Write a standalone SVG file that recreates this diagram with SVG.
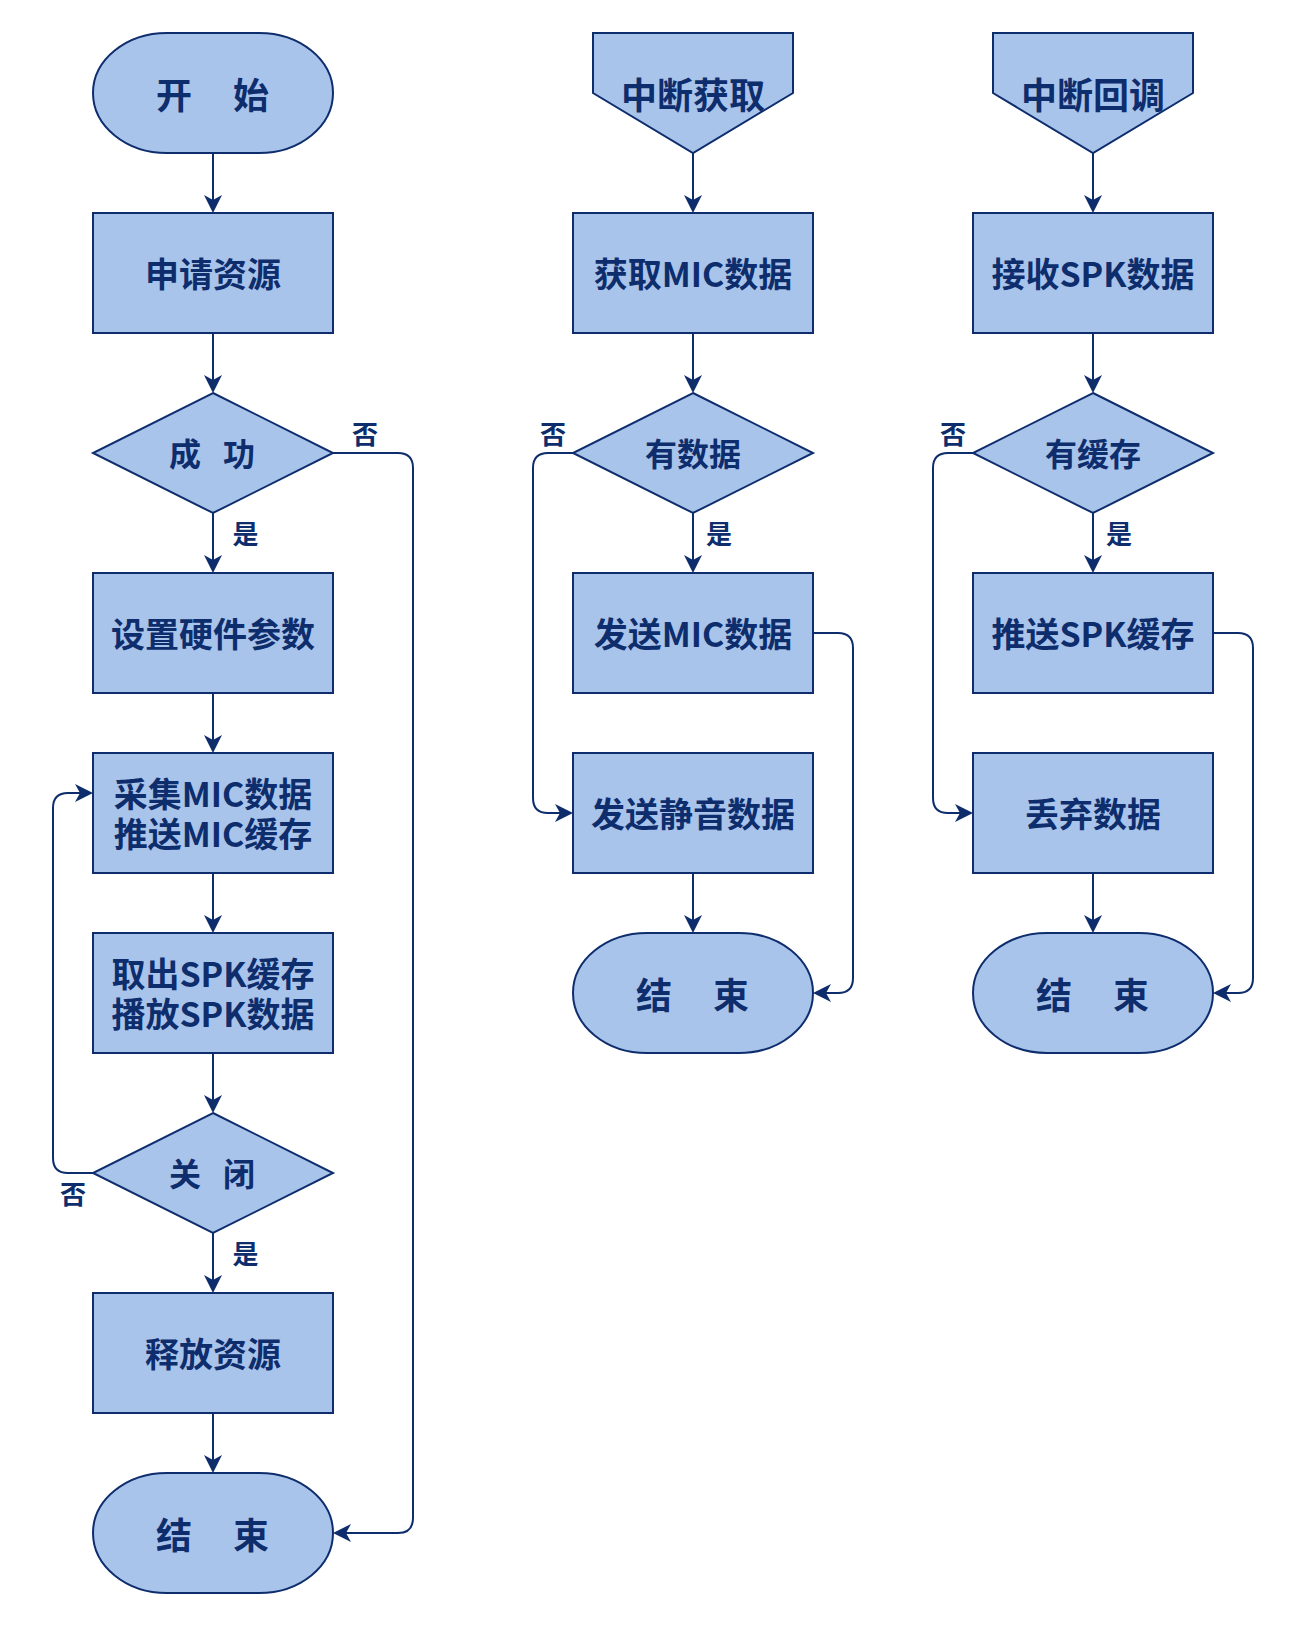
<svg xmlns="http://www.w3.org/2000/svg" width="1302" height="1636" viewBox="0 0 1302 1636">
<style>
.n{fill:#A9C4EB;stroke:#0E2D6D;stroke-width:2}
.t{font-family:"Noto Sans CJK SC","Noto Sans",sans-serif;font-weight:bold;fill:#0E2D6D;text-anchor:middle;dominant-baseline:central}
.r{font-size:34px}
.d{font-size:32px}
.e{font-size:36px}
.l{font-size:26px}
.c{fill:none;stroke:#0E2D6D;stroke-width:2}
</style>
<defs>
<marker id="a" markerUnits="userSpaceOnUse" markerWidth="24" markerHeight="24" viewBox="-20 -12 24 24" refX="0" refY="0" orient="auto">
<path d="M2,0 L-16,-9 L-11,0 L-16,9 Z" fill="#0E2D6D"/>
</marker>
</defs>
<rect width="1302" height="1636" fill="#fff"/>

<g id="connectors">
<path class="c" marker-end="url(#a)" d="M213,153 V211"/>
<path class="c" marker-end="url(#a)" d="M213,333 V391"/>
<path class="c" marker-end="url(#a)" d="M213,513 V571"/>
<path class="c" marker-end="url(#a)" d="M213,693 V751"/>
<path class="c" marker-end="url(#a)" d="M213,873 V931"/>
<path class="c" marker-end="url(#a)" d="M213,1053 V1111"/>
<path class="c" marker-end="url(#a)" d="M213,1233 V1291"/>
<path class="c" marker-end="url(#a)" d="M213,1413 V1471"/>
<path class="c" marker-end="url(#a)" d="M333,453 H398 Q413,453 413,468 V1518 Q413,1533 398,1533 H335"/>
<path class="c" marker-end="url(#a)" d="M93,1173 H68 Q53,1173 53,1158 V808 Q53,793 68,793 H91"/>

<path class="c" marker-end="url(#a)" d="M693,153 V211"/>
<path class="c" marker-end="url(#a)" d="M693,333 V391"/>
<path class="c" marker-end="url(#a)" d="M693,513 V571"/>
<path class="c" marker-end="url(#a)" d="M693,873 V931"/>
<path class="c" marker-end="url(#a)" d="M573,453 H548 Q533,453 533,468 V798 Q533,813 548,813 H571"/>
<path class="c" marker-end="url(#a)" d="M813,633 H838 Q853,633 853,648 V978 Q853,993 838,993 H815"/>

<path class="c" marker-end="url(#a)" d="M1093,153 V211"/>
<path class="c" marker-end="url(#a)" d="M1093,333 V391"/>
<path class="c" marker-end="url(#a)" d="M1093,513 V571"/>
<path class="c" marker-end="url(#a)" d="M1093,873 V931"/>
<path class="c" marker-end="url(#a)" d="M973,453 H948 Q933,453 933,468 V798 Q933,813 948,813 H971"/>
<path class="c" marker-end="url(#a)" d="M1213,633 H1238 Q1253,633 1253,648 V978 Q1253,993 1238,993 H1215"/>

<text class="t l" x="365" y="432">否</text>
<text class="t l" x="245.5" y="532.5">是</text>
<text class="t l" x="73" y="1192">否</text>
<text class="t l" x="245.5" y="1252.5">是</text>
<text class="t l" x="553" y="432">否</text>
<text class="t l" x="719" y="532.5">是</text>
<text class="t l" x="953" y="432">否</text>
<text class="t l" x="1119" y="532.5">是</text>
</g>

<!-- Left column -->
<g id="start1"><rect class="n" x="93" y="33" width="240" height="120" rx="74" ry="60"/><text class="t e" y="93"><tspan x="174">开</tspan><tspan x="251">始</tspan></text></g>
<g id="apply"><rect class="n" x="93" y="213" width="240" height="120"/><text class="t r" x="213" y="272">申请资源</text></g>
<g id="success"><polygon class="n" points="213,393 333,453 213,513 93,453"/><text class="t d" y="452"><tspan x="185">成</tspan><tspan x="239">功</tspan></text></g>
<g id="setparam"><rect class="n" x="93" y="573" width="240" height="120"/><text class="t r" x="213" y="632">设置硬件参数</text></g>
<g id="capture"><rect class="n" x="93" y="753" width="240" height="120"/><text class="t r"><tspan x="213" y="792">采集MIC数据</tspan><tspan x="213" y="832">推送MIC缓存</tspan></text></g>
<g id="play"><rect class="n" x="93" y="933" width="240" height="120"/><text class="t r"><tspan x="213" y="972">取出SPK缓存</tspan><tspan x="213" y="1012">播放SPK数据</tspan></text></g>
<g id="close"><polygon class="n" points="213,1113 333,1173 213,1233 93,1173"/><text class="t d" y="1172"><tspan x="185">关</tspan><tspan x="239">闭</tspan></text></g>
<g id="release"><rect class="n" x="93" y="1293" width="240" height="120"/><text class="t r" x="213" y="1352">释放资源</text></g>
<g id="end1"><rect class="n" x="93" y="1473" width="240" height="120" rx="74" ry="60"/><text class="t e" y="1533"><tspan x="174">结</tspan><tspan x="251">束</tspan></text></g>

<!-- Middle column -->
<g id="irq1"><polygon class="n" points="593,33 793,33 793,93 693,153 593,93"/><text class="t e" x="693" y="93">中断获取</text></g>
<g id="getmic"><rect class="n" x="573" y="213" width="240" height="120"/><text class="t r" x="693" y="272">获取MIC数据</text></g>
<g id="hasdata"><polygon class="n" points="693,393 813,453 693,513 573,453"/><text class="t d" x="693" y="452">有数据</text></g>
<g id="sendmic"><rect class="n" x="573" y="573" width="240" height="120"/><text class="t r" x="693" y="632">发送MIC数据</text></g>
<g id="sendmute"><rect class="n" x="573" y="753" width="240" height="120"/><text class="t r" x="693" y="812">发送静音数据</text></g>
<g id="end2"><rect class="n" x="573" y="933" width="240" height="120" rx="74" ry="60"/><text class="t e" y="993"><tspan x="654">结</tspan><tspan x="731">束</tspan></text></g>

<!-- Right column -->
<g id="irq2"><polygon class="n" points="993,33 1193,33 1193,93 1093,153 993,93"/><text class="t e" x="1093" y="93">中断回调</text></g>
<g id="recvspk"><rect class="n" x="973" y="213" width="240" height="120"/><text class="t r" x="1093" y="272">接收SPK数据</text></g>
<g id="hasbuf"><polygon class="n" points="1093,393 1213,453 1093,513 973,453"/><text class="t d" x="1093" y="452">有缓存</text></g>
<g id="pushspk"><rect class="n" x="973" y="573" width="240" height="120"/><text class="t r" x="1093" y="632">推送SPK缓存</text></g>
<g id="drop"><rect class="n" x="973" y="753" width="240" height="120"/><text class="t r" x="1093" y="812">丢弃数据</text></g>
<g id="end3"><rect class="n" x="973" y="933" width="240" height="120" rx="74" ry="60"/><text class="t e" y="993"><tspan x="1054">结</tspan><tspan x="1131">束</tspan></text></g>
</svg>
